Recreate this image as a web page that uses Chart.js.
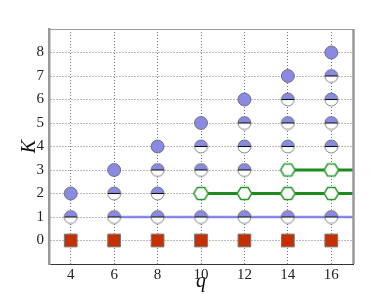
<!DOCTYPE html>
<html><head><meta charset="utf-8">
<script src="https://cdn.jsdelivr.net/npm/chart.js@4/dist/chart.umd.min.js"></script>
<style>html,body{margin:0;padding:0;background:#fff}canvas{display:block}</style>
</head><body>
<canvas id="c" width="392" height="294"></canvas>
<script>
// ---- data ----
const qValues = [4, 6, 8, 10, 12, 14, 16];
const squareK = [0, 0, 0, 0, 0, 0, 0];
const fullCircleK = [2, 3, 4, 5, 6, 7, 8];
const halfCircleQ = [4, 6, 6, 8, 8, 8, 10, 10, 10, 12, 12, 12, 12, 14, 14, 14, 14, 16, 16, 16, 16, 16];
const halfCircleK = [1, 1, 2, 1, 2, 3, 1, 3, 4, 1, 3, 4, 5, 1, 4, 5, 6, 1, 4, 5, 6, 7];
const hexQ = [10, 12, 14, 16, 14, 16];
const hexK = [2, 2, 2, 2, 3, 3];
const blueLineQ = [6, 17], blueLineK = [1, 1];
const green2Q = [10, 17], green2K = [2, 2];
const green3Q = [14, 17], green3K = [3, 3];
const xTicks = [4, 6, 8, 10, 12, 14, 16];
const yTicks = [0, 1, 2, 3, 4, 5, 6, 7, 8];

const pts = (xs, ys) => xs.map((x, i) => ({x, y: ys[i]}));
const BLUE = '#8a8ae2';

function halfCircle(r) {
  const c = document.createElement('canvas');
  const s = Math.ceil(2 * r + 2);
  c.width = s; c.height = s;
  const g = c.getContext('2d');
  const m = s / 2;
  g.beginPath(); g.arc(m, m, r, 0, 2 * Math.PI); g.fillStyle = '#fff'; g.fill();
  g.beginPath(); g.arc(m, m, r, Math.PI, 2 * Math.PI); g.closePath(); g.fillStyle = BLUE; g.fill();
  g.beginPath(); g.moveTo(m - r, m); g.lineTo(m + r, m); g.strokeStyle = '#111'; g.lineWidth = 1.1; g.stroke();
  g.beginPath(); g.arc(m, m, r, 0, 2 * Math.PI); g.strokeStyle = '#555'; g.lineWidth = 0.7; g.stroke();
  return c;
}
function hexagon(r) {
  const c = document.createElement('canvas');
  const s = Math.ceil(2 * r + 4);
  c.width = s; c.height = s;
  const g = c.getContext('2d');
  const m = s / 2;
  g.beginPath();
  for (let i = 0; i < 6; i++) {
    const a = i * Math.PI / 3;
    const px = m + r * Math.cos(a), py = m + r * Math.sin(a) * 0.95;
    if (i === 0) g.moveTo(px, py); else g.lineTo(px, py);
  }
  g.closePath(); g.fillStyle = '#fff'; g.fill();
  g.strokeStyle = '#2a9a2a'; g.lineWidth = 1.5; g.stroke();
  return c;
}

const frame = {
  id: 'frame',
  afterDraw(ch) {
    const a = ch.chartArea, g = ch.ctx;
    g.save();
    g.strokeStyle = '#999'; g.lineWidth = 1;
    g.beginPath(); g.moveTo(a.left, a.top + 0.5); g.lineTo(a.right, a.top + 0.5); g.stroke();
    g.lineWidth = 2.5;
    g.beginPath(); g.moveTo(a.right + 0.5, a.top); g.lineTo(a.right + 0.5, a.bottom); g.stroke();
    g.restore();
  }
};

const serif = "'Liberation Serif', 'DejaVu Serif', serif";

new Chart(document.getElementById('c'), {
  type: 'scatter',
  data: {
    datasets: [
      {data: pts(blueLineQ, blueLineK), showLine: true, borderColor: 'rgba(110,110,235,0.8)', borderWidth: 2.5, pointRadius: 0, order: 10},
      {data: pts(green2Q, green2K), showLine: true, borderColor: '#1f8a1f', borderWidth: 3, pointRadius: 0, order: 10},
      {data: pts(green3Q, green3K), showLine: true, borderColor: '#1f8a1f', borderWidth: 3, pointRadius: 0, order: 10},
      {data: pts(qValues, squareK), pointStyle: 'rect', pointRadius: 9, backgroundColor: '#c43000', borderColor: '#777', borderWidth: 1, order: 1},
      {data: pts(qValues, fullCircleK), pointStyle: 'circle', pointRadius: 6.5, backgroundColor: BLUE, borderColor: '#555', borderWidth: 0.7, order: 1},
      {data: pts(halfCircleQ, halfCircleK), pointStyle: halfCircle(6.5), order: 1},
      {data: pts(hexQ, hexK), pointStyle: hexagon(7.3), order: 1}
    ]
  },
  options: {
    responsive: false,
    animation: false,
    events: [],
    layout: {padding: {top: 29, right: 39, left: 18, bottom: 0}},
    plugins: {legend: {display: false}, tooltip: {enabled: false}},
    scales: {
      x: {
        type: 'linear', min: 3, max: 17,
        afterBuildTicks: s => { s.ticks = xTicks.map(v => ({value: v})); },
        afterFit: s => { s.height = 30; },
        ticks: {color: '#222', font: {family: serif, size: 15}, padding: 2},
        grid: {color: '#777', drawTicks: false, lineWidth: 1},
        border: {color: '#333', width: 1, dash: [1, 2]},
        title: {display: true, text: 'q', color: '#111', font: {family: serif, size: 20, style: 'italic'}, padding: {top: -2, bottom: 0}}
      },
      y: {
        type: 'linear', min: -1, max: 9,
        afterBuildTicks: s => { s.ticks = yTicks.map(v => ({value: v})); },
        afterFit: s => { s.width = 31; },
        ticks: {color: '#222', font: {family: serif, size: 15}, padding: 5},
        grid: {color: '#777', drawTicks: false, lineWidth: 1},
        border: {color: '#999', width: 2.5, dash: [1, 2]},
        title: {display: true, text: 'K', color: '#111', font: {family: serif, size: 20, style: 'italic'}, padding: 0}
      }
    }
  },
  plugins: [frame]
});
</script>
</body></html>
